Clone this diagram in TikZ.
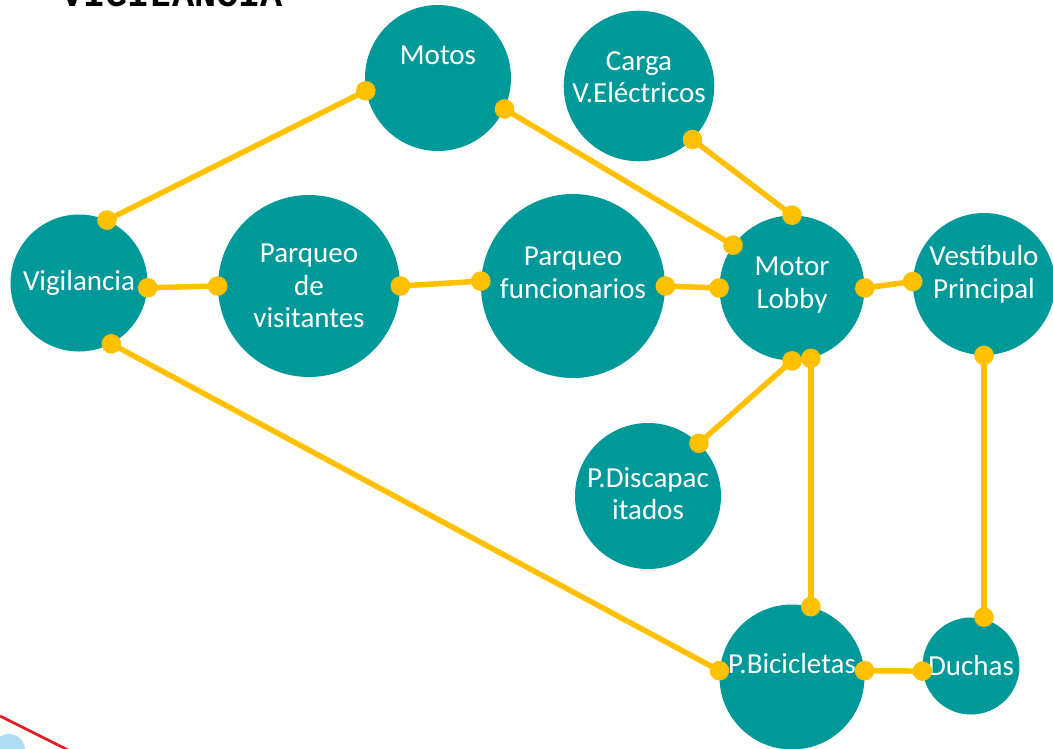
\documentclass[tikz,border=0pt]{standalone}
\usepackage{fontspec}
\setmainfont{Carlito}
\newfontfamily\titlefont{Liberation Mono}
\usetikzlibrary{arrows.meta}
\definecolor{spotcol}{RGB}{0,153,153}
\definecolor{linkcol}{RGB}{255,192,0}
\definecolor{edgered}{RGB}{230,30,40}
\definecolor{paleblue}{RGB}{174,220,245}
\tikzset{
  spot/.style={circle, fill=spotcol, text=white, align=center, inner sep=0pt, minimum size=#1, font=\fontsize{16.5}{18.6}\selectfont},
  lift/.style={text depth=#1},
  link/.style={{Circle[length=3.9mm]}-{Circle[length=3.9mm]}, line width=1.1mm, color=linkcol, shorten <=-1.95mm, shorten >=-1.95mm},
  heading/.style={font=\titlefont\bfseries\fontsize{21}{24}\selectfont, inner sep=0pt, anchor=base west},
}
\begin{document}
\begin{tikzpicture}[x=0.2mm, y=-0.2mm]
  \useasboundingbox (0,0) rectangle (1053,748);
  \node[heading] (title) at (61,6) {VIGILANCIA};
  % corner marks
  \draw[edgered, line width=0.55mm] (0,716) -- (68,750);
  \fill[paleblue] (9,750) circle (16);
  % places
  \node[spot=27.4mm] (vig) at (79,283) {Vigilancia};
  \node[spot=29.2mm, lift=9.2mm] (motos) at (438,78) {Motos};
  \node[spot=29.2mm, lift=3.6mm] (carga) at (639,86) {Carga\\V.Eléctricos};
  \node[spot=36.4mm] (visit) at (309,286) {Parqueo\\de\\visitantes};
  \node[spot=36.8mm, lift=5.2mm] (func) at (573,286) {Parqueo\\funcionarios};
  \node[spot=29mm, lift=2.2mm] (lobby) at (792,288) {Motor\\Lobby};
  \node[spot=28.4mm, lift=4.8mm] (vest) at (984,284) {Vestíbulo\\Principal};
  \node[spot=29.2mm, lift=1mm] (disc) at (648,496) {P.Discapac\\itados};
  \node[spot=29mm, lift=5.6mm] (bici) at (792,677) {P.Bicicletas};
  \node[spot=19.4mm] (duchas) at (971,666) {Duchas};
  % paths between places
  \draw[link] (vig.66) -- (motos.190); \draw[link] (vig.-4) -- (visit.180); \draw[link] (vig.-62) -- (bici.175);
  \draw[link] (visit.0) -- (func.177); \draw[link] (func.0) -- (lobby.180);
  \draw[link] (motos.-25) -- (lobby.144); \draw[link] (carga.-45) -- (lobby.90);
  \draw[link] (lobby.0) -- (vest.178); \draw[link] (lobby.-90) -- (disc.46);
  \draw[link] (lobby.-75) -- (bici.75); \draw[link] (vest.-90) -- (vest.-90 |- duchas.north);
  \draw[link] (bici.5) -- (duchas.186);
\end{tikzpicture}
\end{document}
